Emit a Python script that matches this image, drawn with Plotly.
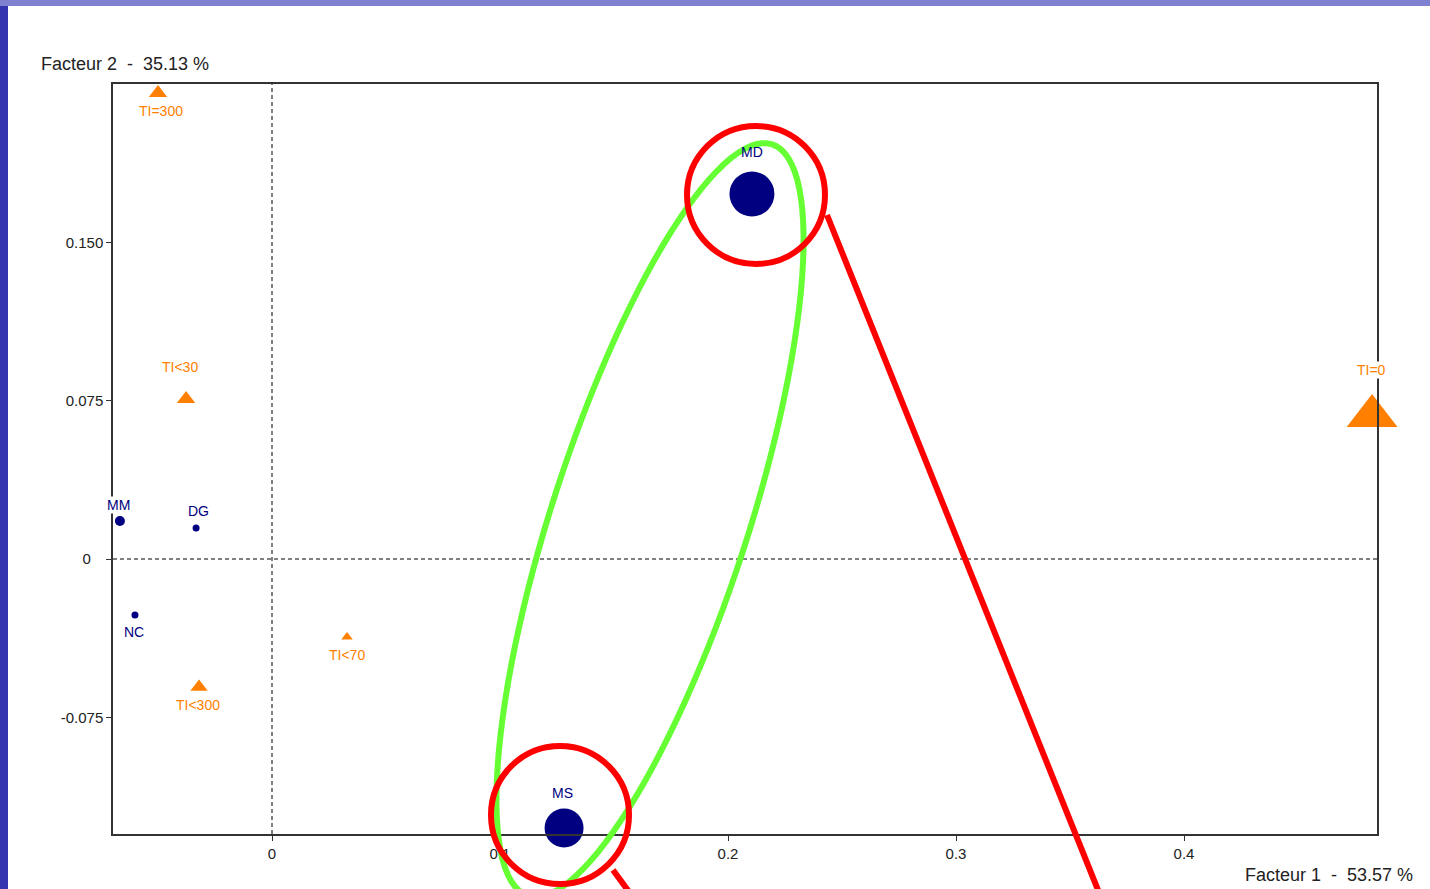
"""Correspondence analysis map (Facteur 1 x Facteur 2) with highlight overlays."""

import numpy as np
import plotly.graph_objects as go

# Modalities (navy dots)
mod_labels = ["MD", "MS", "MM", "DG", "NC"]
mod_x = [0.2105, 0.1281, -0.0667, -0.0333, -0.0601]
mod_y = [0.1730, -0.1275, 0.0180, 0.0147, -0.0265]
mod_sizes = [45, 39, 10, 7, 7]

# TI classes (orange triangles)
ti_labels = ["TI=300", "TI<30", "TI=0", "TI<70", "TI<300"]
ti_x = [-0.0500, -0.0377, 0.4825, 0.0329, -0.0320]
ti_y = [0.2209, 0.0758, 0.0678, -0.0370, -0.0607]
ti_sizes = [16, 16, 44, 10, 15]

x_ticks = [0, 0.1, 0.2, 0.3, 0.4]
x_ticktext = ["0", "0.1", "0.2", "0.3", "0.4"]
y_ticks = [-0.075, 0, 0.075, 0.150]
y_ticktext = ["-0.075", "0\u00a0\u00a0\u00a0", "0.075", "0.150"]

# label offsets in pixels (dx, dy up)
mod_label_shift = [(0, 42), (-2, 35), (-1, 16), (2, 17), (-1, -17)]
ti_label_shift = [(3, -18), (-6, 32), (-1, 46), (0, -18), (-1, -18)]
# labels sitting inside the highlight overlays keep a transparent background
mod_label_bg = ["rgba(0,0,0,0)", "rgba(0,0,0,0)", "white", "white", "white"]

NAVY = "#000080"
ORANGE = "#ff8000"
FONT = "Liberation Sans, Arial, sans-serif"

W, H = 1430, 889
L, R, T, B = 113, 53, 84, 55
PW, PH = W - L - R, H - T - B


def px(xp):
    return (xp - L) / PW


def py(yp):
    return (H - B - yp) / PH


fig = go.Figure()
fig.add_trace(
    go.Scatter(
        x=mod_x, y=mod_y, mode="markers",
        marker={"symbol": "circle", "size": mod_sizes, "color": NAVY, "opacity": 1, "line": {"width": 0}},
        hoverinfo="skip", cliponaxis=False,
    )
)
fig.add_trace(
    go.Scatter(
        x=ti_x, y=ti_y, mode="markers",
        marker={"symbol": "triangle-up", "size": ti_sizes, "color": ORANGE, "opacity": 1, "line": {"width": 0}},
        hoverinfo="skip", cliponaxis=False,
    )
)

annotations = []
for lab, x, y, (dx, dy), bg in zip(mod_labels, mod_x, mod_y, mod_label_shift, mod_label_bg):
    annotations.append(dict(x=x, y=y, text=lab, showarrow=False, xshift=dx, yshift=dy, bgcolor=bg,
                            borderpad=0, font={"color": NAVY, "size": 14, "family": FONT}))
for lab, x, y, (dx, dy) in zip(ti_labels, ti_x, ti_y, ti_label_shift):
    annotations.append(dict(x=x, y=y, text=lab, showarrow=False, xshift=dx, yshift=dy, bgcolor="white",
                            borderpad=0, font={"color": ORANGE, "size": 14, "family": FONT}))

nb = "\u00a0"
annotations.append(dict(xref="paper", yref="paper", x=px(39), y=py(64), xanchor="left", yanchor="middle",
                        text=f"Facteur{nb}2{nb}{nb}-{nb}{nb}35.13{nb}%", showarrow=False,
                        font={"color": "#222222", "size": 18, "family": FONT}))
annotations.append(dict(xref="paper", yref="paper", x=px(1415), y=py(875), xanchor="right", yanchor="middle",
                        text=f"Facteur{nb}1{nb}{nb}-{nb}{nb}53.57{nb}%", showarrow=False,
                        font={"color": "#222222", "size": 18, "family": FONT}))

shapes = [
    # background: white sheet over blue frame
    dict(type="rect", xref="paper", yref="paper", x0=px(0), x1=px(W), y0=py(0), y1=py(6),
         fillcolor="#8080d0", line={"width": 0}, layer="below"),
    dict(type="rect", xref="paper", yref="paper", x0=px(8), x1=px(W + 2), y0=py(6), y1=py(H + 2),
         fillcolor="white", line={"width": 0}, layer="below"),
    # dashed zero lines
    dict(type="line", xref="x", yref="paper", x0=0, x1=0, y0=0, y1=1,
         line={"color": "black", "width": 1, "dash": "4px,3px"}, layer="below"),
    dict(type="line", xref="paper", yref="y", x0=0, x1=1, y0=0, y1=0,
         line={"color": "black", "width": 1, "dash": "4px,3px"}, layer="below"),
]

# green ellipse (pixel geometry)
cx, cy, a, b, ang = 650, 520, 395, 98, np.deg2rad(18)
t = np.linspace(0, 2 * np.pi, 121)
ex = cx + a * np.sin(ang) * np.cos(t) + b * np.cos(ang) * np.sin(t)
ey = cy - a * np.cos(ang) * np.cos(t) + b * np.sin(ang) * np.sin(t)
path = "M " + " L ".join(f"{px(u):.5f},{py(v):.5f}" for u, v in zip(ex, ey)) + " Z"
shapes.append(dict(type="path", xref="paper", yref="paper", path=path,
                   line={"color": "#66ff33", "width": 6}))

# red circles and connector lines
for ccx, ccy, r in [(756, 195, 69), (560, 815, 69)]:
    shapes.append(dict(type="circle", xref="paper", yref="paper",
                       x0=px(ccx - r), x1=px(ccx + r), y0=py(ccy + r), y1=py(ccy - r),
                       line={"color": "#ff0000", "width": 6}))
for (x0, y0), (x1, y1) in [((827, 215), (1102, 900)), ((613, 870), (635, 900))]:
    shapes.append(dict(type="line", xref="paper", yref="paper",
                       x0=px(x0), y0=py(y0), x1=px(x1), y1=py(y1),
                       line={"color": "#ff0000", "width": 6}))

axis_common = dict(
    showline=True, mirror=True, linecolor="#333333", linewidth=1.5,
    showgrid=False, zeroline=False, ticks="outside", ticklen=5, tickcolor="#333333",
    tickfont={"size": 15, "color": "#222222", "family": FONT},
)

fig.update_layout(
    width=W, height=H,
    margin={"l": L, "r": R, "t": T, "b": B},
    paper_bgcolor="#3434b0",
    plot_bgcolor="white",
    showlegend=False,
    xaxis=dict(range=[(L - 272) / 2280, (W - R - 272) / 2280], tickvals=x_ticks, ticktext=x_ticktext,
               **axis_common),
    yaxis=dict(range=[-(H - B - 559) / 2110, (559 - T) / 2110], tickvals=y_ticks, ticktext=y_ticktext,
               **axis_common),
    annotations=annotations,
    shapes=shapes,
)

fig.write_html("out.html", config={"displayModeBar": False},
               post_script="document.body.style.margin='0px';")
